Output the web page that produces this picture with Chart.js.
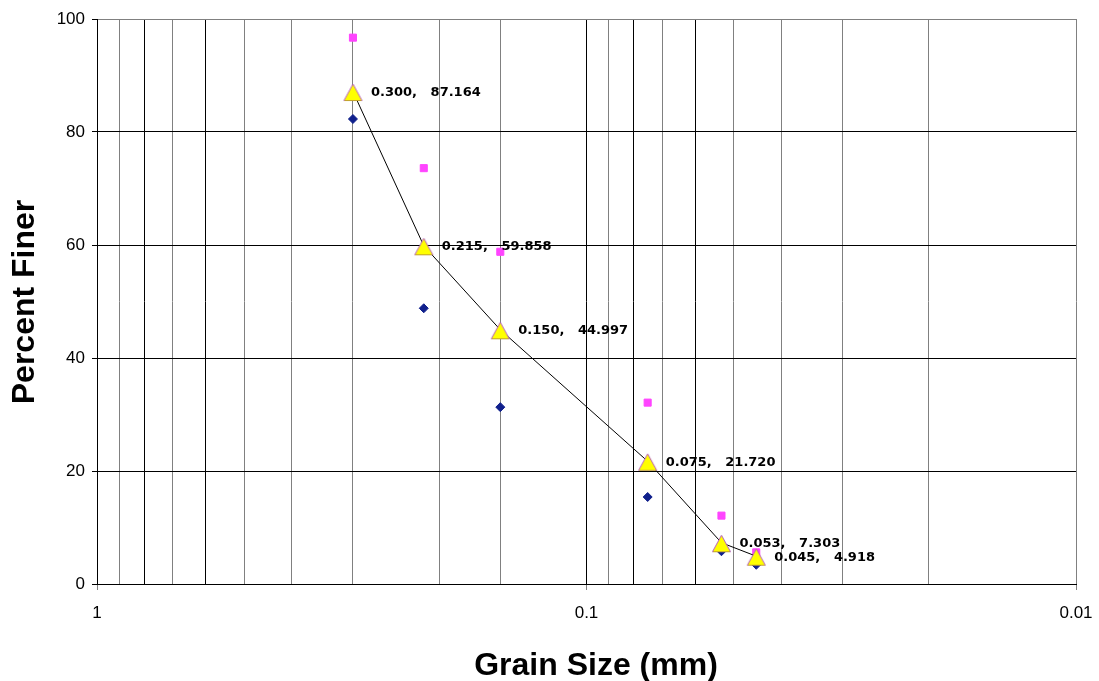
<!DOCTYPE html>
<html>
<head>
<meta charset="utf-8">
<script src="https://cdn.jsdelivr.net/npm/chart.js@4/dist/chart.umd.min.js"></script>
<style>
html,body{margin:0;padding:0;background:#fff;}
canvas{display:block;}
</style>
</head>
<body>
<canvas id="c" width="1099" height="681"></canvas>
<script>
// ---- data ----
const grainSize    = [0.300, 0.215, 0.150, 0.075, 0.053, 0.045];
const percentFiner = [87.164, 59.858, 44.997, 21.720, 7.303, 4.918];
const upperSeries  = [96.7, 73.6, 58.8, 32.1, 12.1, 5.6];
const lowerSeries  = [82.3, 48.8, 31.3, 15.4, 5.8, 3.4];
const xTickLabels  = ['1', '0.1', '0.01'];
const yTickValues  = [0, 20, 40, 60, 80, 100];
const xAxisTitle = 'Grain Size (mm)';
const yAxisTitle = 'Percent Finer';

const pts = (xs, ys) => xs.map((x, i) => ({x: x, y: ys[i]}));

// triangle marker image
const tri = document.createElement('canvas');
tri.width = 21; tri.height = 23;
(function(){
  const g = tri.getContext('2d');
  g.beginPath();
  g.moveTo(10.5, 4); g.lineTo(19.5, 20.5); g.lineTo(1.5, 20.5); g.closePath();
  g.fillStyle = '#ffff00'; g.fill();
  g.strokeStyle = '#b45cc0'; g.lineWidth = 1; g.stroke();
  g.beginPath(); g.moveTo(2, 20.5); g.lineTo(19, 20.5);
  g.strokeStyle = '#c0a030'; g.stroke();
})();

const darkX = [0.8, 0.6, 0.1, 0.08, 0.06];
const near = (a, b) => Math.abs(a - b) < 1e-6 * Math.max(1, Math.abs(b));

const labelPlugin = {
  id: 'labelsAndTitles',
  afterDatasetsDraw(chart) {
    const ctx = chart.ctx;
    const meta = chart.getDatasetMeta(0);
    ctx.save();
    ctx.font = 'bold 13px "DejaVu Sans"';
    ctx.fillStyle = '#000';
    ctx.textAlign = 'left';
    ctx.textBaseline = 'middle';
    meta.data.forEach((p, i) => {
      const txt = grainSize[i].toFixed(3) + ',   ' + percentFiner[i].toFixed(3);
      ctx.fillText(txt, p.x + 18, p.y + 1);
    });
    ctx.restore();
  },
  afterDraw(chart) {
    const ctx = chart.ctx;
    ctx.save();
    ctx.font = 'bold 32px "Liberation Sans", Arial, sans-serif';
    ctx.fillStyle = '#000';
    ctx.textAlign = 'center';
    ctx.textBaseline = 'alphabetic';
    ctx.fillText(xAxisTitle, 596, 675);
    ctx.translate(33.5, 302);
    ctx.rotate(-Math.PI / 2);
    ctx.fillText(yAxisTitle, 0, 0);
    ctx.restore();
  }
};

new Chart(document.getElementById('c'), {
  type: 'scatter',
  data: {
    datasets: [
      {
        data: pts(grainSize, percentFiner),
        showLine: true,
        borderColor: '#000',
        borderWidth: 1,
        pointStyle: tri,
        pointRadius: 10,
        pointBackgroundColor: '#ffff00',
        pointBorderColor: '#b45cc0',
        tension: 0
      },
      {
        data: pts(grainSize, lowerSeries),
        pointStyle: 'rectRot',
        pointRadius: 4.5,
        pointBackgroundColor: '#10208c',
        pointBorderColor: '#10208c',
        pointBorderWidth: 1
      },
      {
        data: pts(grainSize, upperSeries),
        pointStyle: 'rect',
        pointRadius: 5,
        pointBackgroundColor: '#ff44ff',
        pointBorderColor: '#ff44ff',
        pointBorderWidth: 1
      }
    ]
  },
  options: {
    responsive: false,
    animation: false,
    layout: {padding: {top: 19, right: 23, left: 0, bottom: 0}},
    plugins: {legend: {display: false}, tooltip: {enabled: false}},
    scales: {
      x: {
        type: 'logarithmic',
        reverse: true,
        min: 0.01,
        max: 1,
        offset: false,
        afterFit(s) { s.height = 97; s.paddingLeft = 0; s.paddingRight = 0; },
        border: {color: '#000', width: 1},
        grid: {
          color: c => (c.tick && darkX.some(v => near(c.tick.value, v))) ? '#000' : '#808080',
          lineWidth: 1,
          drawTicks: true,
          tickLength: 6,
          tickColor: c => (c.tick && xTickLabels.some(l => near(c.tick.value, Number(l)))) ? '#808080' : 'rgba(0,0,0,0)'
        },
        ticks: {
          autoSkip: false,
          maxRotation: 0,
          padding: 13,
          color: '#000',
          font: {family: '"Liberation Sans", Arial, sans-serif', size: 17},
          callback: v => {
            const l = xTickLabels.find(t => near(v, Number(t)));
            return l === undefined ? '' : l;
          }
        }
      },
      y: {
        min: 0,
        max: 100,
        afterFit(s) { s.width = 97; s.paddingTop = 0; s.paddingBottom = 0; },
        afterBuildTicks(s) { s.ticks = yTickValues.map(v => ({value: v})); },
        border: {color: '#000', width: 1},
        grid: {
          color: c => (c.tick && c.tick.value === 100) ? '#808080' : '#000',
          lineWidth: 1,
          drawTicks: true,
          tickLength: 5,
          tickColor: '#000'
        },
        ticks: {
          padding: 7,
          color: '#000',
          font: {family: '"Liberation Sans", Arial, sans-serif', size: 17}
        }
      }
    }
  },
  plugins: [labelPlugin]
});
</script>
</body>
</html>
